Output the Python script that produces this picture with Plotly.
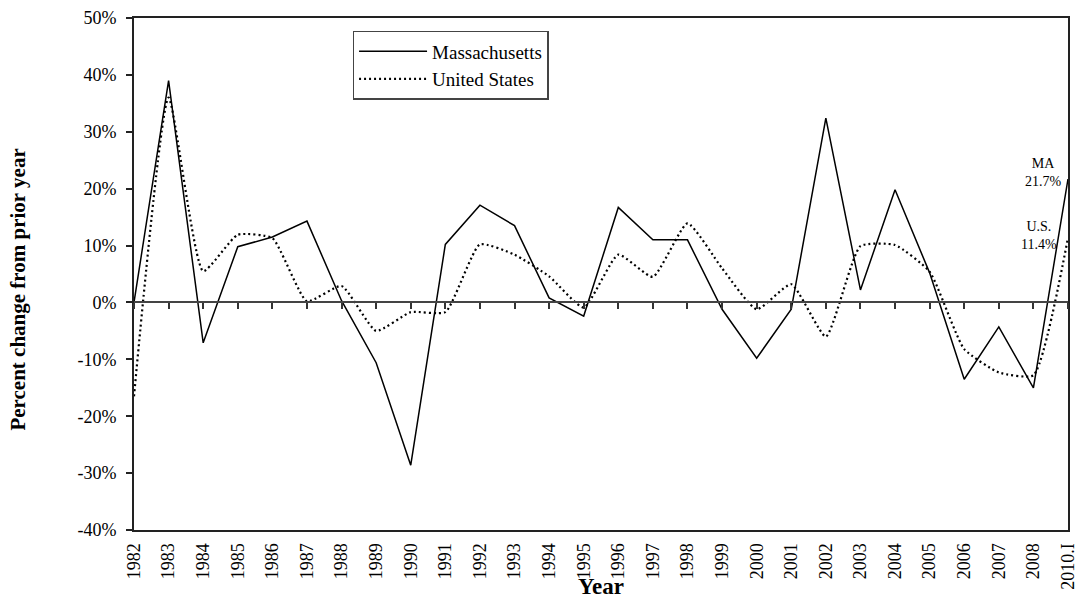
import plotly.graph_objects as go

# Year-over-year percent change
years = ["1982", "1983", "1984", "1985", "1986", "1987", "1988", "1989", "1990",
         "1991", "1992", "1993", "1994", "1995", "1996", "1997", "1998", "1999",
         "2000", "2001", "2002", "2003", "2004", "2005", "2006", "2007", "2008",
         "2010.I"]
massachusetts = [0.0, 39.0, -7.1, 9.8, 11.5, 14.3, 0.3, -10.6, -28.6,
                 10.2, 17.1, 13.5, 0.8, -2.4, 16.7, 11.0, 11.0, -1.2,
                 -9.8, -1.2, 32.4, 2.2, 19.8, 5.2, -13.5, -4.3, -15.0,
                 21.7]
united_states = [-16.5, 36.0, 5.5, 11.9, 11.3, 0.2, 2.9, -5.0, -1.7,
                 -1.7, 10.2, 8.4, 4.6, -0.9, 8.4, 4.5, 13.9, 6.0,
                 -1.2, 3.2, -6.0, 9.9, 10.1, 5.4, -8.2, -12.3, -12.8,
                 11.4]
y_ticks = [-40, -30, -20, -10, 0, 10, 20, 30, 40, 50]
y_tick_text = [f"{v}%" for v in y_ticks]

SERIF = "Liberation Serif"
idx = list(range(len(years)))

fig = go.Figure()
fig.add_trace(go.Scatter(
    x=idx, y=massachusetts, name="Massachusetts", mode="lines",
    line=dict(color="black", width=1.5),
))
fig.add_trace(go.Scatter(
    x=idx, y=united_states, name="United States", mode="lines",
    line=dict(color="black", width=2.2, dash="2px,3px", shape="spline", smoothing=0.5),
))
# Axis at the zero line carrying the year tick marks
fig.add_trace(go.Scatter(x=idx, y=[None] * len(idx), xaxis="x2", showlegend=False,
                         hoverinfo="skip"))

# End-point labels for the latest period
last = len(years) - 1
fig.add_annotation(x=last - 0.7, y=massachusetts[-1] + 1.1,
                   text=f"MA<br>{massachusetts[-1]:.1f}%", showarrow=False,
                   font=dict(family=SERIF, size=14, color="black"), align="center")
fig.add_annotation(x=last - 0.85, y=united_states[-1] + 0.35,
                   text=f"U.S.<br>{united_states[-1]:.1f}%", showarrow=False,
                   font=dict(family=SERIF, size=14, color="black"), align="center")

# Axis titles
fig.add_annotation(xref="paper", yref="paper", x=-0.124, y=0.47,
                   xanchor="center", yanchor="middle",
                   text="<b>Percent change from prior year</b>", textangle=-90,
                   showarrow=False, font=dict(family=SERIF, size=21, color="black"))
fig.add_annotation(xref="paper", yref="paper", x=0.5, y=-0.11,
                   text="<b>Year</b>", showarrow=False, yanchor="middle",
                   font=dict(family=SERIF, size=23, color="black"))

fig.update_layout(
    width=1077, height=601,
    margin=dict(l=134, r=9, t=18, b=71, autoexpand=False),
    paper_bgcolor="white", plot_bgcolor="white",
    font=dict(family=SERIF, color="black"),
    showlegend=True,
    legend=dict(
        x=0.234, y=0.975, xanchor="left", yanchor="top",
        bordercolor="#444", borderwidth=1.5, bgcolor="white",
        font=dict(family=SERIF, size=19, color="black"),
        itemwidth=68, tracegroupgap=0,
    ),
    xaxis=dict(
        range=[0, last], tickmode="array", tickvals=idx, ticktext=years,
        tickangle=-90, ticks="", showgrid=False, zeroline=False,
        showline=True, linecolor="#222", linewidth=2, mirror=True,
        tickfont=dict(family=SERIF, size=18, color="black"),
        ticklabelstandoff=4, ticklabeloverflow="allow", automargin=False,
    ),
    xaxis2=dict(
        range=[0, last], overlaying="x", anchor="free", position=40 / 90,
        side="bottom", tickmode="array", tickvals=idx, showticklabels=False,
        ticks="outside", ticklen=6, tickwidth=1.5, tickcolor="#333",
        showline=True, linecolor="#444", linewidth=1.8, showgrid=False, zeroline=False,
        automargin=False,
    ),
    yaxis=dict(
        range=[-40, 50], tickmode="array", tickvals=y_ticks, ticktext=y_tick_text,
        ticks="outside", ticklen=6, tickwidth=1.5, tickcolor="#222",
        showgrid=False, zeroline=False,
        showline=True, linecolor="#222", linewidth=2, mirror=True,
        tickfont=dict(family=SERIF, size=18, color="black"),
        ticklabelstandoff=6, automargin=False,
    ),
)

fig.write_html("out.html")
